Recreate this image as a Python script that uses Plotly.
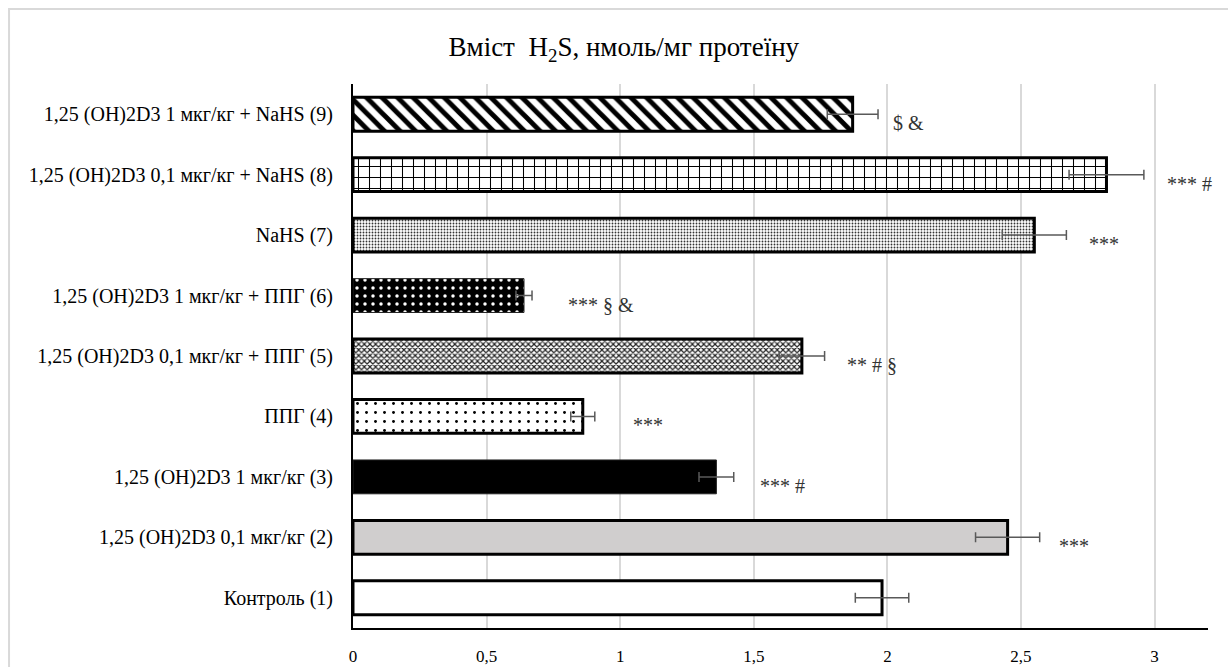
import plotly.graph_objects as go

# Groups, bottom to top
groups = [
    "Контроль (1)",
    "1,25 (OH)2D3 0,1 мкг/кг (2)",
    "1,25 (OH)2D3 1 мкг/кг (3)",
    "ППГ (4)",
    "1,25 (OH)2D3 0,1 мкг/кг + ППГ (5)",
    "1,25 (OH)2D3 1 мкг/кг + ППГ (6)",
    "NaHS (7)",
    "1,25 (OH)2D3 0,1 мкг/кг + NaHS (8)",
    "1,25 (OH)2D3 1 мкг/кг + NaHS (9)",
]
# H2S content, nmol/mg protein (mean and error)
h2s_mean = [1.98, 2.45, 1.36, 0.86, 1.68, 0.64, 2.55, 2.82, 1.87]
h2s_err = [0.10, 0.12, 0.065, 0.045, 0.085, 0.03, 0.12, 0.14, 0.095]
# Significance marks
sig_marks = ["", "***", "*** #", "***", "** # §", "*** § &", "***", "*** #", "$ &"]

# Per-bar fill styling
fill_color = ["white", "#d0cece", "black", "white", "white", "black", "white", "white", "white"]
pat_shape = ["", "", "", ".", "x", ".", ".", "+", "\\"]
pat_fg = ["black", "black", "black", "black", "#222222", "white", "#333333", "black", "black"]
pat_bg = ["white", "#d0cece", "black", "white", "white", "black", "white", "white", "white"]
pat_size = [8, 8, 8, 9, 4, 8, 3, 11, 11]
pat_solid = [0.3, 0.3, 0.3, 0.08, 0.5, 0.15, 0.3, 0.18, 0.45]
edge_width = [3, 3, 1, 3, 3, 1, 3, 3, 3]
edge_color = ["black", "black", "#222222", "black", "black", "#222222", "black", "black", "black"]
# Horizontal pixel gap between error cap and its mark
mark_gap = [0, 17, 24, 36, 20, 34, 21, 21, 13]

serif = "Liberation Serif"

fig = go.Figure()
for i, g in enumerate(groups):
    marker = dict(color=fill_color[i], line=dict(color=edge_color[i], width=edge_width[i]))
    if pat_shape[i]:
        marker["pattern"] = dict(
            shape=pat_shape[i], fgcolor=pat_fg[i], bgcolor=pat_bg[i],
            size=pat_size[i], solidity=pat_solid[i], fillmode="replace",
        )
    fig.add_trace(
        go.Bar(
            x=[h2s_mean[i]], y=[g], orientation="h", marker=marker,
            error_x=dict(type="data", array=[h2s_err[i]], color="#595959", thickness=1.5, width=5),
            name=g, hoverinfo="x+y",
        )
    )

for g, m, e, t, gap in zip(groups, h2s_mean, h2s_err, sig_marks, mark_gap):
    if not t:
        continue
    fig.add_annotation(
        x=m + e, y=g, text=t, showarrow=False, xanchor="left", yanchor="middle",
        xshift=gap, yshift=-9, font=dict(family=serif, size=20, color="#333333"),
    )

# Light outer frame of the chart area
fig.add_shape(
    type="rect", xref="paper", yref="paper",
    x0=-0.4023, x1=1.2, y0=-0.3, y1=1.1379,
    line=dict(color="#d9d9d9", width=2), fillcolor="rgba(0,0,0,0)", layer="below",
)

fig.update_layout(
    width=1228, height=667,
    margin=dict(l=353, r=20, t=84, b=39),
    paper_bgcolor="white", plot_bgcolor="white",
    separators=",.",
    barmode="overlay",
    bargap=0.44,
    showlegend=False,
    title=dict(
        text="Вміст\u00a0 H<sub>2</sub>S, нмоль/мг протеїну",
        x=0.508, xref="container", xanchor="center",
        y=0.93, yref="container", yanchor="middle",
        font=dict(family=serif, size=27, color="black"),
    ),
    xaxis=dict(
        range=[0, 3.2], dtick=0.5, tick0=0, automargin=False,
        showgrid=True, gridcolor="#d9d9d9", gridwidth=1.5,
        zeroline=False, showline=True, linecolor="black", linewidth=2,
        ticks="", ticklabelstandoff=12,
        tickfont=dict(family=serif, size=17, color="black"),
    ),
    yaxis=dict(
        showgrid=False, zeroline=False, showline=True, linecolor="black", linewidth=2,
        ticks="", ticklabelstandoff=14, automargin=False,
        categoryorder="array", categoryarray=groups,
        tickfont=dict(family=serif, size=20, color="black"),
    ),
)

fig.write_html("out.html")
